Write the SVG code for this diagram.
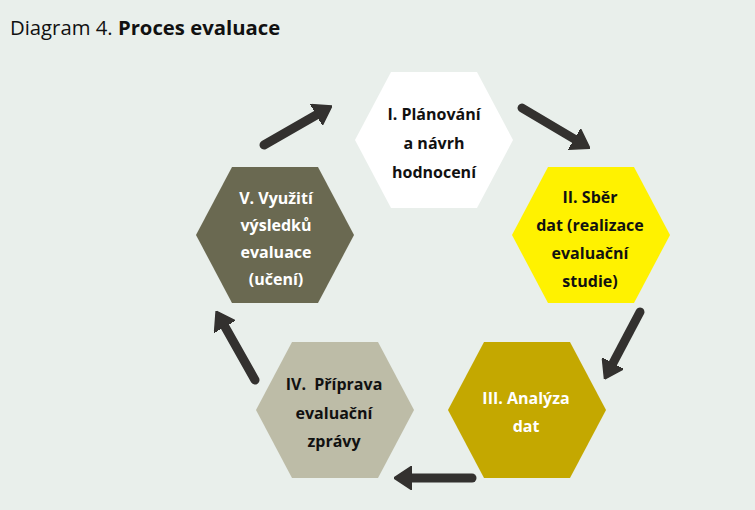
<svg xmlns="http://www.w3.org/2000/svg" width="755" height="510" viewBox="0 0 755 510">
<style>
.t{font-family:"Open Sans","Lato",sans-serif;font-weight:700;font-size:16px;text-anchor:middle;fill:#111}
.w{fill:#fff}
.ttl{font-family:"Open Sans","Lato",sans-serif;font-size:20.3px;fill:#111}
.arr{stroke:#33312f;stroke-width:9;stroke-linecap:round;fill:none;marker-end:url(#ah)}
</style>
<defs>
<marker id="ah" viewBox="0 0 18 24" markerUnits="userSpaceOnUse" markerWidth="18" markerHeight="24" refX="2" refY="12" orient="auto">
<path d="M0,0 L18,12 L0,24 z" fill="#33312f" stroke="#33312f" stroke-width="1.5" stroke-linejoin="round"/>
</marker>
</defs>
<rect width="755" height="510" fill="#E9EFEB"/>
<text class="ttl" x="10" y="35">Diagram 4. <tspan font-weight="700">Proces evaluace</tspan></text>

<g id="n1">
<polygon points="355,140 391,72 477,72 513,140 477,208 391,208" fill="#FFFFFF"/>
<text class="t" x="434" y="120">I. Plánování</text>
<text class="t" x="434" y="149">a návrh</text>
<text class="t" x="434" y="178">hodnocení</text>
</g>
<g id="n2">
<polygon points="512,235 548,167 634,167 670,235 634,303 548,303" fill="#FFF200"/>
<text class="t" x="590" y="203">II. Sběr</text>
<text class="t" x="590" y="231">dat (realizace</text>
<text class="t" x="590" y="259">evaluační</text>
<text class="t" x="590" y="287">studie)</text>
</g>
<g id="n3">
<polygon points="448,410 484,342 570,342 606,410 570,478 484,478" fill="#C4A800"/>
<text class="t w" x="526" y="404">III. Analýza</text>
<text class="t w" x="526" y="432">dat</text>
</g>
<g id="n4">
<polygon points="256,410 292,342 378,342 414,410 378,478 292,478" fill="#BDBCA7"/>
<text class="t" x="334" y="390" xml:space="preserve">IV.  Příprava</text>
<text class="t" x="334" y="419">evaluační</text>
<text class="t" x="334" y="447">zprávy</text>
</g>
<g id="n5">
<polygon points="196,235 232,167 318,167 354,235 318,303 232,303" fill="#6A6951"/>
<text class="t w" x="276" y="204">V. Využití</text>
<text class="t w" x="276" y="231">výsledků</text>
<text class="t w" x="276" y="258">evaluace</text>
<text class="t w" x="276" y="285">(učení)</text>
</g>

<g id="connectors">
<line class="arr" x1="264" y1="145" x2="318" y2="114"/>
<line class="arr" x1="522" y1="108" x2="576" y2="140"/>
<line class="arr" x1="640" y1="312" x2="612" y2="365"/>
<line class="arr" x1="472" y1="478" x2="410" y2="478"/>
<line class="arr" x1="255" y1="380" x2="224" y2="325"/>
</g>
</svg>
